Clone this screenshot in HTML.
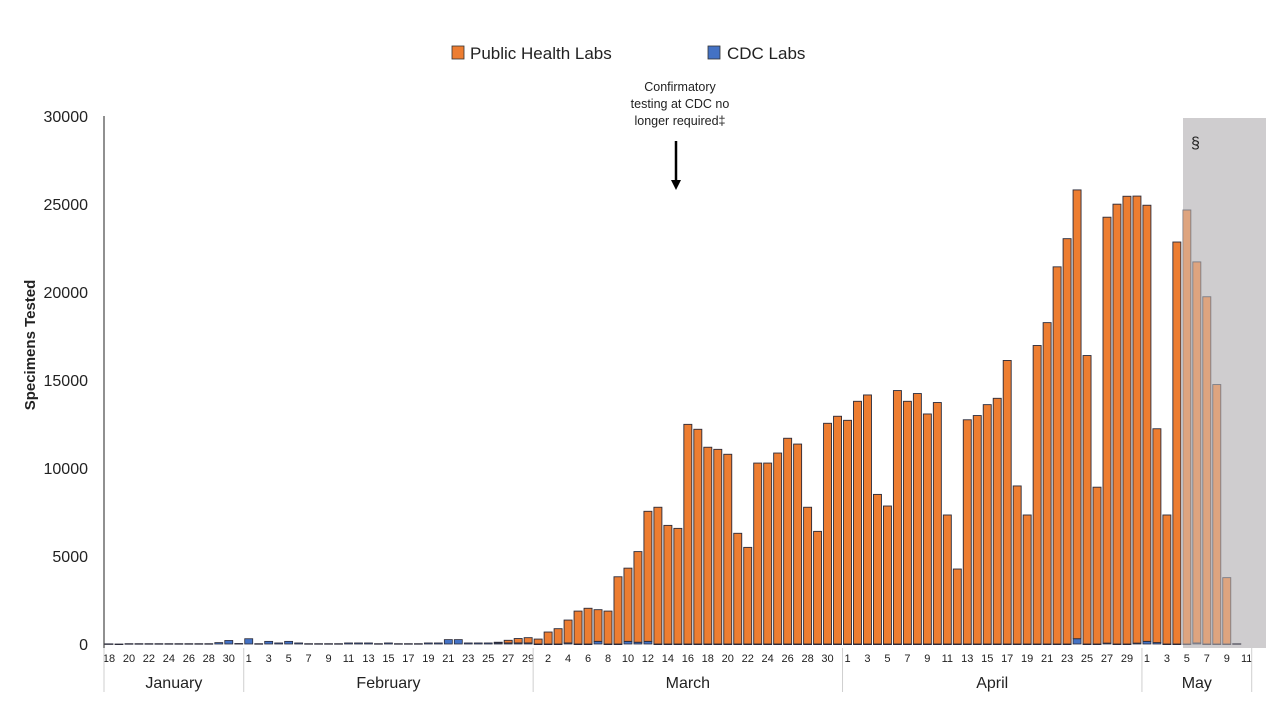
<!DOCTYPE html>
<html><head><meta charset="utf-8">
<style>
html,body{margin:0;padding:0;background:#fff;}
svg{display:block;font-family:"Liberation Sans",sans-serif;}
</style></head>
<body>
<svg id="chart" width="1280" height="720" viewBox="0 0 1280 720">
  <rect x="1183" y="118" width="83" height="530" fill="#cfcdcf"/>
  <text x="1191" y="148" font-size="16" fill="#222">§</text>
  <g>
    <g>
      <rect x="452" y="46" width="12" height="13" fill="#ed7d31" stroke="#333" stroke-width="0.8"/>
      <text x="470" y="59" font-size="17" fill="#222">Public Health Labs</text>
    </g>
    <g>
      <rect x="708" y="46" width="12" height="13" fill="#4472c4" stroke="#333" stroke-width="0.8"/>
      <text x="727" y="59" font-size="17" fill="#222">CDC Labs</text>
    </g>
  </g>
  <g font-size="12.5" fill="#222" text-anchor="middle">
    <text x="680" y="91">Confirmatory</text>
    <text x="680" y="108">testing at CDC no</text>
    <text x="680" y="125">longer required‡</text>
    <line x1="676" y1="141" x2="676" y2="182" stroke="#000" stroke-width="2.5"/>
    <polygon points="671,180 681,180 676,190" fill="#000"/>
  </g>
  <text transform="translate(35,345) rotate(-90)" text-anchor="middle" font-size="15" font-weight="bold" fill="#222">Specimens Tested</text>
  <g id="yaxis"></g>
  <g id="bars"></g>
  <g id="xaxis"></g>
</svg>
<script>
const months = ["January","February","March","April","May"];
const monthDays = [14,29,31,30,11];
const monthStart = [18,1,1,1,1];
const phl = [0,0,0,0,0,0,0,0,0,0,0,0,0,0,
 0,0,0,0,0,0,0,0,0,0,0,0,0,0,0,0,0,0,0,0,0,0,0,0,0,40,150,250,300,
 280,680,870,1300,1870,2030,1800,1870,3820,4160,5150,7390,7770,6740,6570,12480,12200,11180,11060,10780,6290,5490,10280,10280,10850,11690,11360,7770,6400,12540,12940,
 12710,13790,14150,8500,7840,14400,13790,14230,13070,13720,7330,4260,12740,12980,13600,13960,16110,8980,7330,16960,18260,21430,23030,25500,16390,8910,24200,24990,25440,25400,
 24780,12150,7330,22840,24660,21650,19730,14740,3770,30,30];
const cdc = [10,0,20,20,20,20,20,20,20,20,20,80,200,30,
 300,20,150,60,150,60,20,20,20,20,60,60,60,20,60,20,20,20,60,60,250,250,60,60,60,60,60,60,60,
 0,0,0,60,0,0,150,0,0,150,100,150,0,0,0,0,0,0,0,0,0,0,0,0,0,0,0,0,0,0,
 0,0,0,0,0,0,0,0,0,0,0,0,0,0,0,0,0,0,0,0,0,0,0,0,300,0,0,50,0,0,
 50,150,80,0,0,0,60,0,0,0,0];
const yTicks = [0,5000,10000,15000,20000,25000,30000];
const shadedFrom = 108; // index of May 5 (incomplete data)

const NS="http://www.w3.org/2000/svg";
const x0=109, step=9.98, y0=644, yTop=116, yMax=30000;
const xs = i => x0 + i*step;
const ys = v => y0 - v*(y0-yTop)/yMax;
function mk(tag, attrs, parent){const e=document.createElementNS(NS,tag);for(const k in attrs)e.setAttribute(k,attrs[k]);parent.appendChild(e);return e;}

const ya=document.getElementById('yaxis');
mk('line',{x1:104,y1:yTop,x2:104,y2:648,stroke:'#222','stroke-width':1},ya);
yTicks.forEach(t=>{
  const tx=mk('text',{x:88,y:ys(t)+6,'text-anchor':'end','font-size':16,fill:'#222'},ya);
  
  
  tx.textContent=t;
});

const bg=document.getElementById('bars');
const bw=8;
for(let i=0;i<phl.length;i++){
  const g=mk('g',{},bg);
  
  
  if(i>=shadedFrom) g.setAttribute('opacity','0.5');
  const cx=xs(i);
  const cy=ys(cdc[i]);
  const r1=mk('rect',{x:cx-bw/2,y:cy,width:bw,height:Math.max(y0-cy,0.6),fill:'#4472c4',stroke:'#2b2b3a','stroke-width':0.8},g);
  
  
  if(phl[i]>0){
    const py=ys(cdc[i]+phl[i]);
    const r2=mk('rect',{x:cx-bw/2,y:py,width:bw,height:cy-py,fill:'#ed7d31',stroke:'#2b2b3a','stroke-width':0.9},g);
    
    
  }
}

const xa=document.getElementById('xaxis');
let idx=0;
const seps=[];
months.forEach((m,mi)=>{
  const start=idx;
  for(let d=0; d<monthDays[mi]; d++){
    const day=monthStart[mi]+d;
    if(idx%2===0){
      const t=mk('text',{x:xs(idx),y:662,'text-anchor':'middle','font-size':11,fill:'#222'},xa);
      
      
      t.textContent=day;
    }
    idx++;
  }
  const left=xs(start)-step/2, right=xs(idx-1)+step/2;
  seps.push(left); if(mi===months.length-1) seps.push(right);
  const ml=mk('text',{x:(left+right)/2,y:688,'text-anchor':'middle','font-size':16,fill:'#222'},xa);
  
  
  ml.textContent=m;
});
seps.forEach(s=>{
  const l=mk('line',{x1:s,y1:648,x2:s,y2:692,stroke:'#cfcfcf','stroke-width':1},xa);
  
  
});
</script>
</body></html>
